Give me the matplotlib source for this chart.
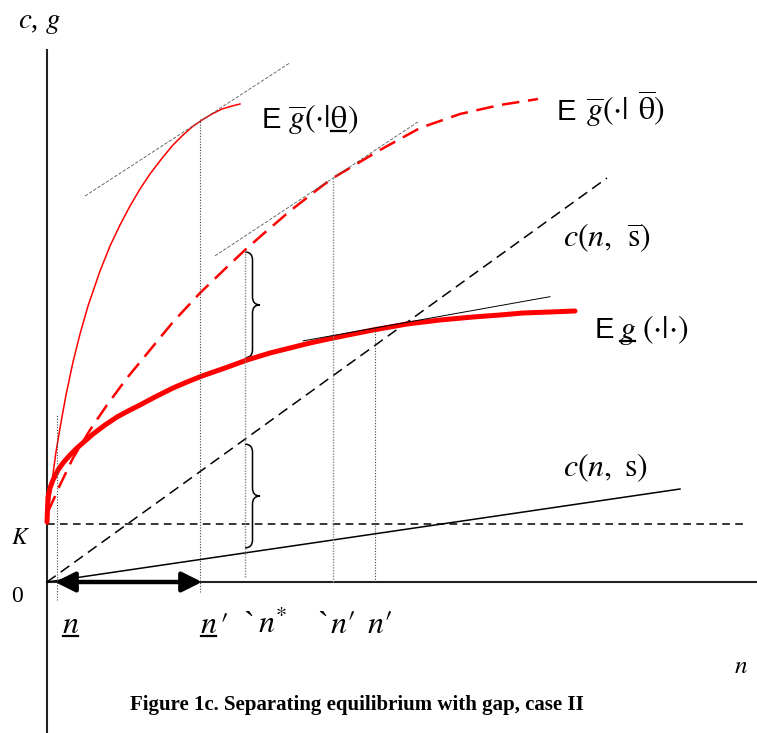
import numpy as np
import matplotlib
matplotlib.use('Agg')
import matplotlib.pyplot as plt
from matplotlib.path import Path
from matplotlib.patches import PathPatch
from matplotlib.lines import Line2D
from matplotlib.transforms import IdentityTransform

plt.rcParams['font.family'] = ['Liberation Serif', 'DejaVu Serif']
plt.rcParams['mathtext.fontset'] = 'stix'

# curves (n, value), origin at the axes corner
n_hi = [0, 1, 3, 6, 9, 13, 19, 26, 33, 41, 53, 63, 73, 83, 93, 103, 116, 126,
        136, 145, 155, 165, 175, 185, 193]
g_hi = [58, 68, 85, 108, 130, 154, 187, 220, 248, 276, 311, 336, 357, 376, 393,
        408, 425, 437, 447, 455, 462, 468, 473, 476, 478]

n_lo = [1, 13, 26, 43, 60, 80, 103, 126, 153, 180, 198, 215, 243, 275, 286,
        333, 373, 413, 453, 491]
g_lo = [70, 97, 124, 152, 177, 204, 232, 260, 289, 315, 332, 347, 371, 396, 404,
        432, 454, 468, 477, 483]

n_mix = [0, 1, 3, 6, 11, 16, 23, 30, 38, 46, 58, 70, 83, 93, 108, 126, 140, 155,
         178, 200, 223, 243, 263, 286, 306, 326, 343, 360, 393, 426, 453, 476,
         503, 528]
g_mix = [60, 85, 94, 102, 112, 119, 127, 134, 141, 148, 157, 165, 172, 177, 185,
         194, 200, 206, 214, 222, 229, 234, 239, 244, 248, 252, 255, 258, 262, 265,
         267, 269, 270, 271]

K = 58
c_hi_end = (560, 404)   # c(n, s bar)
c_lo_end = (633, 93)    # c(n, s)

n_under = 10
n_under_p = 153
n_star = 198
n_grave_p = 286
n_prime = 328

fig = plt.figure(figsize=(7.57, 7.33), dpi=100)
ax = fig.add_axes([0, 0, 1, 1])
ax.set_xlim(-47, 710)
ax.set_ylim(-151, 582)
ax.axis('off')

# axes
ax.plot([0, 0], [-151, 532], color='#222222', lw=1.5)
ax.plot([0, 710], [0, 0], color='#222222', lw=1.5)

# cost lines and K
ax.plot([0, c_hi_end[0]], [0, c_hi_end[1]], color='black', lw=1.1, dashes=(7, 4))
ax.plot([0, c_lo_end[0]], [0, c_lo_end[1]], color='black', lw=1.1)
ax.plot([0, 698], [K, K], color='black', lw=1.1, dashes=(5, 3.5))

# expected gain curves
ax.plot(n_hi, g_hi, color='red', lw=1.1)
ax.plot(n_lo, g_lo, color='red', lw=1.8, dashes=(7, 3.5))
ax.plot(n_mix, g_mix, color='red', lw=3.6, solid_capstyle='round',
        solid_joinstyle='round')

# tangents
def tangent(x0, y0, slope, xa, xb, **kw):
    xs = np.array([xa, xb])
    ax.plot(xs, y0 + slope * (xs - x0), **kw)

tangent(155, 462, 0.65, 38, 243, color='#555555', lw=0.6, dashes=(4, 2))
tangent(286, 404, 0.66, 168, 371, color='#555555', lw=0.6, dashes=(4, 2))
tangent(328, 254, 0.179, 256, 503, color='black', lw=0.7)

# vertical guides
vl = dict(color='#444444', lw=0.8, ls=(0, (1, 1.5)))
ax.plot([n_under, n_under], [-18, 167], **vl)
ax.plot([n_under_p, n_under_p], [-10, 463], **vl)
ax.plot([n_star, n_star], [5, 332], color='#888888', lw=1.0, ls=(0, (1, 1)))
ax.plot([n_grave_p, n_grave_p], [0, 404], color='#888888', lw=1.0, ls=(0, (1, 1)))
ax.plot([n_prime, n_prime], [0, 254], **vl)

# braces at n*
def brace(x, y0, y1, a=7.5, r=8):
    m = (y0 + y1) / 2
    verts = [(x, y1), (x + a, y1), (x + a, y1 - r), (x + a, m + r),
             (x + a, m), (x + 2 * a, m), (x + a, m), (x + a, m - r),
             (x + a, y0 + r), (x + a, y0), (x, y0)]
    codes = [Path.MOVETO, Path.CURVE3, Path.CURVE3, Path.LINETO,
             Path.CURVE3, Path.CURVE3, Path.CURVE3, Path.CURVE3,
             Path.LINETO, Path.CURVE3, Path.CURVE3]
    ax.add_patch(PathPatch(Path(verts, codes), fill=False, lw=1.1, color='black'))

top = np.interp(n_star, n_lo, g_lo)
bot = np.interp(n_star, n_mix, g_mix)
brace(n_star, bot + 3, top - 2)
top2 = n_star * c_hi_end[1] / c_hi_end[0]
bot2 = n_star * c_lo_end[1] / c_lo_end[0]
brace(n_star, bot2 + 5, top2 - 5)

# gap arrow
ax.annotate('', xy=(8, 0), xytext=(155, 0),
            arrowprops=dict(arrowstyle='<|-|>', color='black', lw=3.2,
                            mutation_scale=30, shrinkA=0, shrinkB=0))

# labels
fs = 23
fe = 21
sans = 'Liberation Sans'
underlined = []


def txt(x, y, s, size=fs, ul=False, **kw):
    t = ax.text(x, y, s, fontsize=size, ha='left', va='baseline', **kw)
    if ul:
        underlined.append((t, y))
    return t


def after(prev, y, s, gap=0, size=fs, ul=False, **kw):
    t = ax.annotate(s, xy=(1, y), xycoords=(prev, 'data'), xytext=(gap, 0),
                    textcoords='offset points', fontsize=size, ha='left',
                    va='baseline', **kw)
    if ul:
        underlined.append((t, y))
    return t


ax.text(-7, 559, r'$c$, $g$', fontsize=21, ha='center', va='center')
ax.text(-26, 44, r'$K$', fontsize=17, ha='center', va='center')
ax.text(-30, -14, '0', fontsize=17, ha='center', va='center')
ax.text(694, -85, r'$n$', fontsize=18, ha='center', va='center')

# E g-bar(.|theta underbar)
txt(215, 454, 'E', size=fe, family=sans)
t = txt(241, 454, r'$\overline{g}({\cdot}|$')
t = after(t, 454, r'$\mathrm{\theta}$', ul=True)
after(t, 454, r'$)$')

# E g-bar(.| theta bar)
txt(510, 462, 'E', size=fe, family=sans)
t = txt(539, 462, r'$\overline{g}({\cdot}|$')
after(t, 462, r'$\overline{\mathrm{\theta}})$', gap=7)

# c(n, s bar)
t = txt(516, 336, r'$c(n,$')
after(t, 336, r'$\overline{\mathrm{s}})$', gap=11)

# E g underbar (.|.)
txt(548, 244, 'E', size=fe, family=sans)
t = txt(572, 244, r'$g$', ul=True)
after(t, 244, r'$({\cdot}|{\cdot})$', gap=4)

# c(n, s)
txt(516, 106, r'$c(n,\ \mathrm{s})$')

# n labels
txt(15, -51, r'$n$', ul=True)
t = txt(153, -51, r'$n$', ul=True)
after(t, -51, r'$\prime$', gap=1)
txt(196, -51, '`')
txt(211, -51, r'$n^{*}$')
txt(270, -51, '`')
txt(283, -51, r'$n\prime$')
txt(320, -51, r'$n\prime$')

ax.text(310, -123, 'Figure 1c. Separating equilibrium with gap, case II',
        fontsize=15, fontweight='bold', ha='center', va='center')

# underlines drawn from the rendered text extents
fig.canvas.draw()
for t, y in underlined:
    bb = t.get_window_extent()
    yb = ax.transData.transform((0, y))[1] - 3
    fig.add_artist(Line2D([bb.x0 + 1, bb.x1 - 1], [yb, yb], color='black', lw=1.6,
                          transform=IdentityTransform()))

fig.savefig('out.png', dpi=100)
